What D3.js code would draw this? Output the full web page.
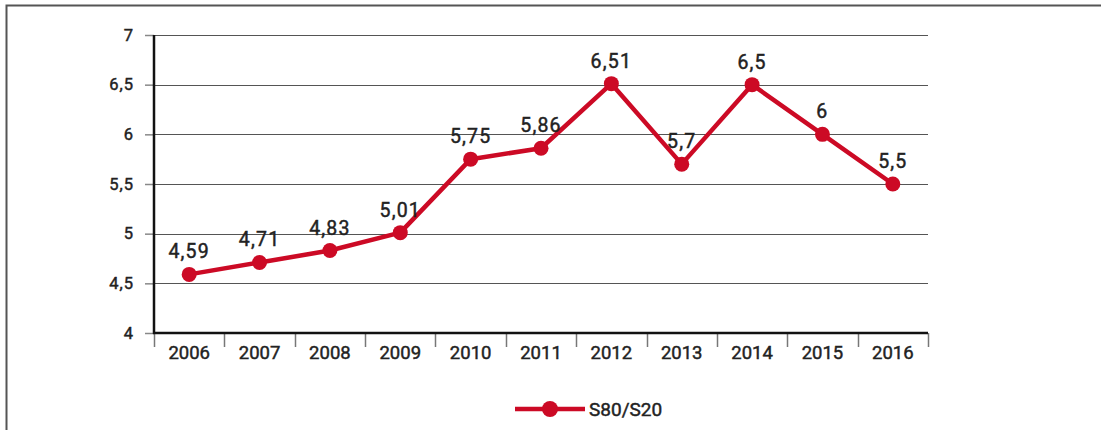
<!DOCTYPE html>
<html><head><meta charset="utf-8">
<script src="https://cdn.jsdelivr.net/npm/d3@7"></script>
<style>
html,body{margin:0;padding:0;background:#fff;}
svg{display:block;font-family:"Roboto",sans-serif;}
svg text{stroke:#222;stroke-width:0.45px;}
</style></head>
<body>
<script>
const years = ["2006","2007","2008","2009","2010","2011","2012","2013","2014","2015","2016"];
const values = [4.59,4.71,4.83,5.01,5.75,5.86,6.51,5.7,6.5,6,5.5];
const valueLabels = ["4,59","4,71","4,83","5,01","5,75","5,86","6,51","5,7","6,5","6","5,5"];
const yTicks = [4,4.5,5,5.5,6,6.5,7];
const yTickLabels = ["4","4,5","5","5,5","6","6,5","7"];
const seriesName = "S80/S20";

const W=1101,H=430;
const red="#cc0a25";
const txt="#222";
const svg=d3.select("body").append("svg").attr("width",W).attr("height",H);

// frame
svg.append("path").attr("d","M6.5,430 V5.5 H1101").attr("fill","none").attr("stroke","#555").attr("stroke-width",2);

const x=d3.scaleBand().domain(years).range([154,928]);
const y=d3.scaleLinear().domain([4,7]).range([333,35]);

// gridlines
svg.append("g").selectAll("line").data(yTicks.filter(d=>d>4)).join("line")
 .attr("x1",154).attr("x2",928).attr("y1",d=>Math.round(y(d))+0.5).attr("y2",d=>Math.round(y(d))+0.5)
 .attr("stroke","#555").attr("stroke-width",1);

// y axis
const yAxis=d3.axisLeft(y).tickValues(yTicks).tickFormat((d,i)=>yTickLabels[i]).tickSize(9).tickPadding(11);
const gy=svg.append("g").attr("transform","translate(154,0)").call(yAxis);
gy.select(".domain").remove();
gy.selectAll(".tick line").attr("stroke","#888").attr("stroke-width",1.5);
gy.selectAll(".tick text").attr("font-size",16.5).attr("fill",txt).attr("font-family","Roboto").attr("letter-spacing","1px");
svg.append("line").attr("x1",154).attr("x2",154).attr("y1",35).attr("y2",334).attr("stroke","#111").attr("stroke-width",2.5);

// x axis
const xTickScale=d3.scaleLinear().domain([0,years.length]).range([154,928]);
const gx=svg.append("g");
gx.selectAll("line").data(d3.range(years.length+1)).join("line")
 .attr("x1",d=>Math.round(xTickScale(d))+0.5).attr("x2",d=>Math.round(xTickScale(d))+0.5)
 .attr("y1",333).attr("y2",347).attr("stroke","#777").attr("stroke-width",1.5);
const xAxis=d3.axisBottom(x).tickSize(0).tickPadding(13);
const gxa=svg.append("g").attr("transform","translate(0,333)").call(xAxis);
gxa.select(".domain").remove();
gxa.selectAll(".tick text").attr("font-size",18.5).attr("fill",txt).attr("font-family","Roboto");
svg.append("line").attr("x1",153).attr("x2",928).attr("y1",333).attr("y2",333).attr("stroke","#111").attr("stroke-width",2.5);

// series
const cx=d=>x(d)+x.bandwidth()/2;
const line=d3.line().x((d,i)=>cx(years[i])).y(d=>y(d));
svg.append("path").datum(values).attr("d",line).attr("fill","none").attr("stroke",red).attr("stroke-width",4.5).attr("stroke-linejoin","round");
svg.append("g").selectAll("circle").data(values).join("circle")
 .attr("cx",(d,i)=>cx(years[i])).attr("cy",d=>y(d)).attr("r",7.5).attr("fill",red);
svg.append("g").selectAll("text").data(values).join("text")
 .attr("x",(d,i)=>cx(years[i])).attr("y",d=>y(d)-16).attr("text-anchor","middle")
 .attr("font-size",19.5).attr("letter-spacing","1.2px").attr("fill",txt).text((d,i)=>valueLabels[i]);

// legend
const lg=svg.append("g");
lg.append("line").attr("x1",515).attr("x2",585).attr("y1",409).attr("y2",409).attr("stroke",red).attr("stroke-width",4.5);
lg.append("circle").attr("cx",550).attr("cy",409).attr("r",8).attr("fill",red);
lg.append("text").attr("x",589).attr("y",416).attr("font-size",19).attr("fill",txt).text(seriesName);
</script>
</body></html>
